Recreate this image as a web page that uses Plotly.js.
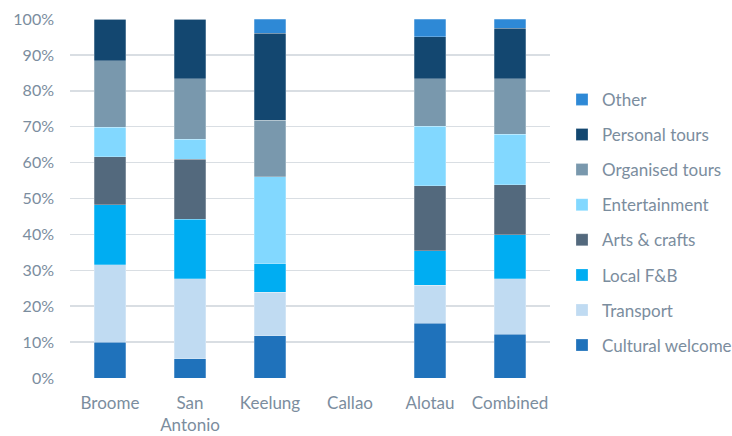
<!DOCTYPE html>
<html>
<head>
<meta charset="utf-8">
<script src="https://cdn.plot.ly/plotly-3.0.1.min.js"></script>
<style>html,body{margin:0;padding:0;background:#fff;}#chart{width:732px;height:436px;}</style>
</head>
<body>
<div id="chart"></div>
<script>
const categories = ["Broome", "San<br>Antonio", "Keelung", "Callao", "Alotau", "Combined"];
const seriesNames = ["Cultural welcome", "Transport", "Local F&B", "Arts & crafts", "Entertainment", "Organised tours", "Personal tours", "Other"];
const culturalWelcome = [10.0, 5.3, 11.8, 0, 15.2, 12.2];
const transport       = [21.5, 22.3, 12.1, 0, 10.7, 15.4];
const localFB         = [16.7, 16.6, 7.9, 0, 9.6, 12.3];
const artsCrafts      = [13.4, 16.8, 0.0, 0, 18.0, 13.9];
const entertainment   = [8.2, 5.5, 24.2, 0, 16.6, 14.1];
const organisedTours  = [18.6, 16.8, 15.8, 0, 13.2, 15.4];
const personalTours   = [11.6, 16.7, 24.2, 0, 11.8, 14.1];
const other           = [0.0, 0.0, 4.0, 0, 4.9, 2.6];
const yTicks = [0, 10, 20, 30, 40, 50, 60, 70, 80, 90, 100];
const yTickLabels = ["0%", "10%", "20%", "30%", "40%", "50%", "60%", "70%", "80%", "90%", "100%"];

const seriesValues = [culturalWelcome, transport, localFB, artsCrafts, entertainment, organisedTours, personalTours, other];
const colors = ["#1f72bb", "#c0dbf2", "#00adf2", "#53697d", "#82d8ff", "#7998ad", "#134770", "#2e89d6"];
const textColor = "#7b8d9e";
const font = "Lato, 'Open Sans', sans-serif";

const traces = seriesNames.map((name, i) => ({
  type: "bar",
  name: name,
  x: categories,
  y: seriesValues[i],
  legendgroup: "g" + i,
  legendrank: 1000 - i,
  marker: {color: colors[i], line: {color: "rgba(255,255,255,0.5)", width: 0.5}},
  hoverinfo: "skip"
}));

const layout = {
  width: 732, height: 436,
  margin: {l: 70, r: 182, t: 19, b: 58, autoexpand: false},
  barmode: "stack",
  bargap: 0.61,
  paper_bgcolor: "#fff",
  plot_bgcolor: "#fff",
  font: {family: font, size: 17, color: textColor},
  xaxis: {
    type: "category",
    showgrid: false, showline: false, zeroline: false, ticks: "",
    tickfont: {family: font, size: 17, color: textColor},
    ticklabelstandoff: 13
  },
  yaxis: {
    range: [0, 100],
    tickmode: "array",
    tickvals: yTicks,
    ticktext: yTickLabels,
    showgrid: true, gridcolor: "#d9dee3", gridwidth: 1.5,
    zeroline: false, showline: false, ticks: "",
    tickfont: {family: font, size: 16, color: textColor},
    ticklabelstandoff: 15
  },
  legend: {
    x: 1.025, xanchor: "left",
    y: 0.825, yanchor: "top",
    traceorder: "grouped",
    tracegroupgap: 10,
    font: {family: font, size: 17, color: textColor},
    bgcolor: "rgba(0,0,0,0)"
  },
  showlegend: true
};

Plotly.newPlot("chart", traces, layout, {displayModeBar: false, staticPlot: true});
</script>
</body>
</html>
